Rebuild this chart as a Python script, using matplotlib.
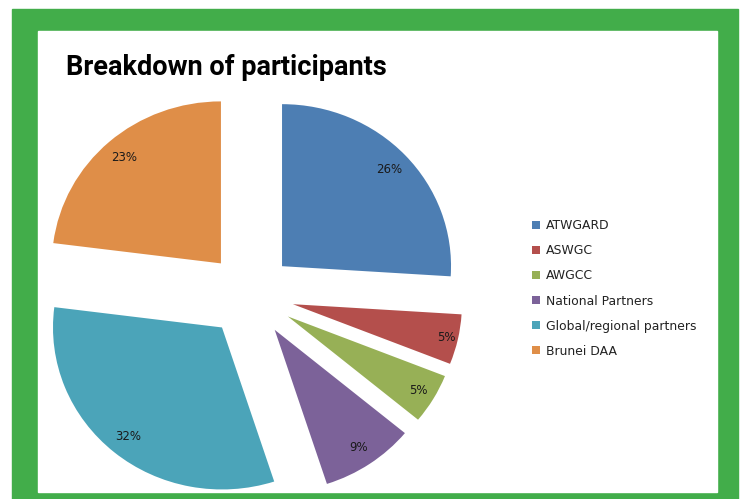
import numpy as np
import matplotlib
matplotlib.use('Agg')
import matplotlib.pyplot as plt
from matplotlib.patches import Rectangle

labels = ['ATWGARD', 'ASWGC', 'AWGCC', 'National Partners',
          'Global/regional partners', 'Brunei DAA']
shares = [26, 5, 5, 9, 32, 23]
colors = ['#4d7eb3', '#b44f4c', '#97b056', '#7c6299', '#4ba4b9', '#df8e48']

W, H = 740, 499
fig = plt.figure(figsize=(W / 100, H / 100), dpi=100)

# green frame with white panel
fig.patches.append(Rectangle((12 / W, 0), (738 - 12) / W, (H - 9) / H,
                             transform=fig.transFigure, color='#42ad4a', zorder=-2))
fig.patches.append(Rectangle((38 / W, 1 - 492 / H), (717 - 38) / W, (492 - 31) / H,
                             transform=fig.transFigure, color='white', zorder=-1))

# pie centre and radius in pixels (the original is a bit wider than tall)
cx, cy, rx, ry = 250, 295, 169, 162
ax = fig.add_axes([0, 0, 1, 1])
ax.set_zorder(1)
ax.patch.set_alpha(0)

wedges, texts, autotexts = ax.pie(
    shares, colors=colors, startangle=90, counterclock=False,
    explode=[0.26] * len(shares), autopct='%1.0f%%', pctdistance=0.86,
    textprops=dict(fontsize=8.5, color='#1a1a1a'),
    wedgeprops=dict(linewidth=0))
ax.set_aspect('auto')
ax.set_xlim(-cx / rx, (W - cx) / rx)
ax.set_ylim(-(H - cy) / ry, cy / ry)
ax.axis('off')

# per-slice label distance (Excel best fit)
dist = [0.87, 0.93, 0.9, 0.88, 0.87, 0.87]
for w, t, d in zip(wedges, autotexts, dist):
    th = np.deg2rad((w.theta1 + w.theta2) / 2)
    t.set_position((w.center[0] + d * w.r * np.cos(th),
                    w.center[1] + d * w.r * np.sin(th)))

fig.text(66 / W, 1 - 75 / H, 'Breakdown of participants', fontsize=19.5,
         fontweight='bold', family='Roboto', va='baseline', ha='left')

leg = fig.legend(wedges, labels, loc='upper left', bbox_to_anchor=(526 / W, 1 - 213 / H),
                 frameon=False, fontsize=8.9, handlelength=0.62, handleheight=0.62,
                 handletextpad=0.5, labelspacing=0.98, borderpad=0, labelcolor='#222222')
leg.set_zorder(2)

fig.savefig('out.png', dpi=100)
